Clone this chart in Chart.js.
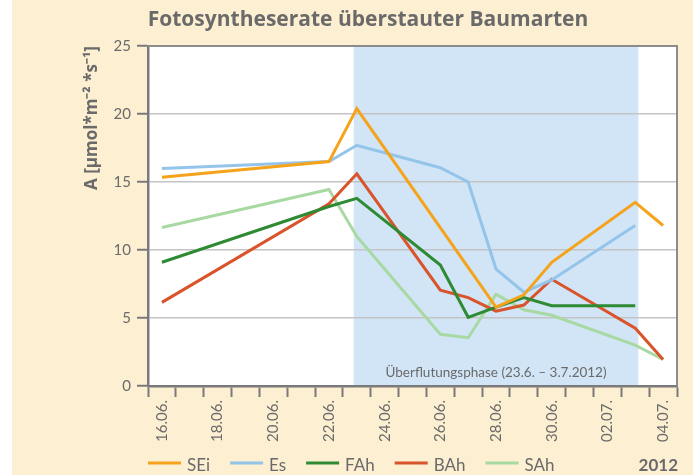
<!DOCTYPE html>
<html>
<head>
<meta charset="utf-8">
<script src="https://cdn.jsdelivr.net/npm/chart.js@4.4.1/dist/chart.umd.min.js"></script>
<style>
    body { margin: 0; background: #fff; }
    #wrap { width: 693px; height: 475px; }
</style>
</head>
<body>
<div id="wrap"><canvas id="chart" width="693" height="475"></canvas></div>
<script>
const days = ['16.06.', '17.06.', '18.06.', '19.06.', '20.06.', '21.06.', '22.06.', '23.06.', '24.06.', '25.06.',
    '26.06.', '27.06.', '28.06.', '29.06.', '30.06.', '01.07.', '02.07.', '03.07.', '04.07.']
const tickLabels = ['16.06.', '18.06.', '20.06.', '22.06.', '24.06.', '26.06.', '28.06.', '30.06.', '02.07.', '04.07.']
const floodDays = ['23.06.', '03.07.']

// null = no measurement that day, line is drawn across the gap
const sei = [15.35, null, null, null, null, null, 16.5, 20.4, null, null, null, null, 5.8, 6.7, 9.1, null, null, 13.5, 11.8]
const es = [16.0, null, null, null, null, null, 16.5, 17.7, null, null, 16.05, 15.0, 8.6, 6.9, 7.8, null, null, 11.8, null]
const fah = [9.1, null, null, null, null, null, 13.2, 13.8, null, null, 8.9, 5.05, 5.8, 6.5, 5.9, null, null, 5.9, null]
const bah = [6.15, null, null, null, null, null, 13.4, 15.6, null, null, 7.05, 6.5, 5.5, 5.95, 7.85, null, null, 4.25, 1.95]
const sah = [11.65, null, null, null, null, null, 14.45, 11.0, null, null, 3.8, 3.55, 6.75, 5.6, 5.2, null, null, 3.0, 1.95]

const seriesNames = ['SEi', 'Es', 'FAh', 'BAh', 'SAh']
const seriesValues = [sei, es, fah, bah, sah]
const seriesColors = ['#f6a31c', '#94c4ea', '#2f8a34', '#d9532b', '#a9d9a2']

const FONT = 'Lato'
const HEAD = '"Open Sans"'
const TEXT = '#6a6a6a'
const AXIS = '#7a7a7a'

const ctx = document.getElementById('chart')

const extras = {
    id: 'extras',
    beforeDraw: chart => {
        const c = chart.ctx
        const { left, right, top, bottom } = chart.chartArea
        const x = chart.scales.x
        const step = x.getPixelForValue(1) - x.getPixelForValue(0)

        c.save()
        c.fillStyle = '#ffffff'
        c.fillRect(0, 0, chart.width, chart.height)
        c.fillStyle = '#fdefd2'
        c.fillRect(12, 0, chart.width - 12, chart.height)
        c.fillStyle = '#ffffff'
        c.fillRect(left, top, right - left, bottom - top)

        const x0 = x.getPixelForValue(days.indexOf(floodDays[0])) - step * 0.11
        const x1 = x.getPixelForValue(days.indexOf(floodDays[1])) + step * 0.11
        c.fillStyle = '#d1e5f6'
        c.fillRect(x0, top, x1 - x0, bottom - top)
        c.restore()
    },
    afterDraw: chart => {
        const c = chart.ctx
        const { left, right, top, bottom } = chart.chartArea
        const x = chart.scales.x
        const step = x.getPixelForValue(1) - x.getPixelForValue(0)

        c.save()
        // frame top / right
        c.strokeStyle = '#8c8c8c'
        c.lineWidth = 2
        c.beginPath()
        c.moveTo(left, top)
        c.lineTo(right, top)
        c.lineTo(right, bottom)
        c.stroke()

        // title
        c.fillStyle = TEXT
        c.font = `bold 21px ${HEAD}`
        c.textAlign = 'center'
        c.textBaseline = 'alphabetic'
        c.fillText('Fotosyntheserate überstauter Baumarten', 368, 26)

        // flood label
        const x0 = x.getPixelForValue(days.indexOf(floodDays[0])) - step * 0.11
        const x1 = x.getPixelForValue(days.indexOf(floodDays[1])) + step * 0.11
        c.font = `13.5px ${FONT}`
        c.fillText('Überflutungsphase (23.6. – 3.7.2012)', (x0 + x1) / 2, bottom - 9)

        // legend
        let lx = left
        c.textAlign = 'left'
        c.font = `17px ${FONT}`
        chart.data.datasets.forEach(ds => {
            c.strokeStyle = ds.borderColor
            c.lineWidth = 3
            c.beginPath()
            c.moveTo(lx, 463)
            c.lineTo(lx + 33, 463)
            c.stroke()
            c.fillStyle = TEXT
            c.fillText(ds.label, lx + 39, 471)
            lx += 39 + c.measureText(ds.label).width + 20
        })
        c.font = `bold 17px ${FONT}`
        c.textAlign = 'right'
        c.fillText('2012', right + 1, 471)
        c.restore()
    }
}

const chart = new Chart(ctx, {
    type: 'line',
    data: {
        labels: days,
        datasets: seriesNames.map((name, i) => ({
            label: name,
            data: seriesValues[i],
            borderColor: seriesColors[i],
            backgroundColor: seriesColors[i],
            borderWidth: 3,
            pointRadius: 0,
            tension: 0,
            spanGaps: true
        }))
    },
    options: {
        responsive: false,
        animation: false,
        layout: { padding: { top: 46, right: 16, bottom: 0, left: 0 } },
        plugins: {
            legend: { display: false },
            title: { display: false },
            tooltip: { enabled: false }
        },
        scales: {
            x: {
                offset: true,
                grid: { drawOnChartArea: false, offset: true, tickLength: 11, tickColor: AXIS, tickWidth: 2 },
                border: { color: AXIS, width: 2.5 },
                ticks: {
                    autoSkip: false,
                    minRotation: 90,
                    maxRotation: 90,
                    padding: 3,
                    color: TEXT,
                    font: { family: FONT, size: 15 },
                    callback: (val, i) => tickLabels.includes(days[i]) ? days[i] : ''
                },
                afterFit: s => { s.height = 89 }
            },
            y: {
                min: 0,
                max: 25,
                ticks: { stepSize: 5, padding: 6, color: TEXT, font: { family: FONT, size: 15 } },
                grid: { color: '#c4c4c4', lineWidth: 1.5, tickLength: 11, tickColor: AXIS, tickWidth: 2 },
                border: { color: AXIS, width: 2.5 },
                title: {
                    display: true,
                    text: 'A [µmol*m⁻² *s⁻¹]',
                    align: 'end',
                    color: TEXT,
                    font: { family: 'Open Sans', size: 17, weight: 'bold' },
                    padding: { top: 82, bottom: 0 }
                },
                afterFit: s => { s.width = 148 }
            }
        }
    },
    plugins: [extras]
})
</script>
</body>
</html>
